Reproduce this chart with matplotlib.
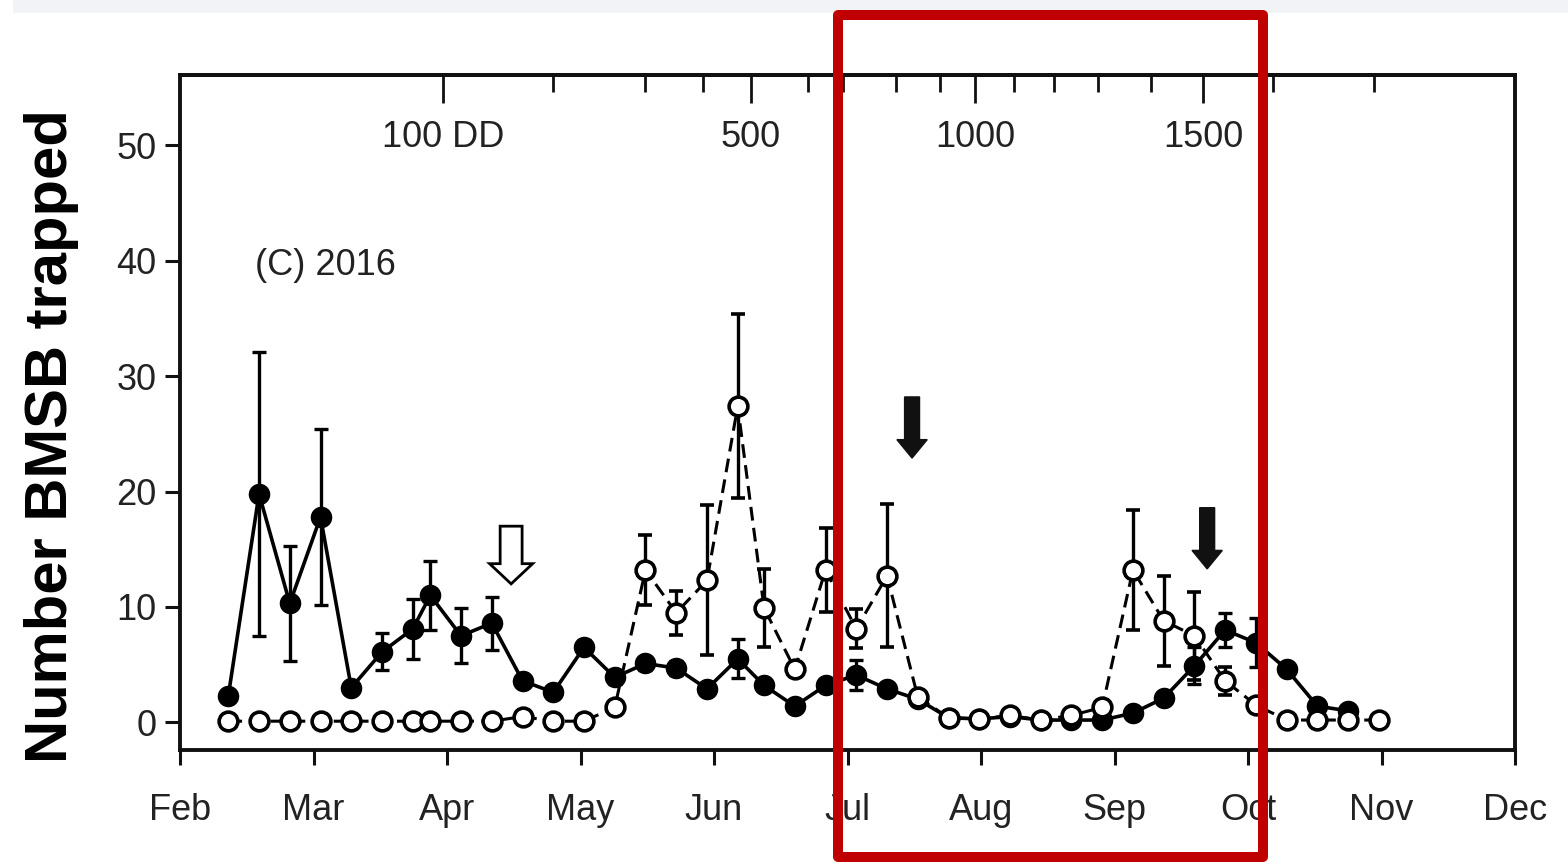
import numpy as np
import matplotlib.pyplot as plt
from matplotlib.patches import FancyArrow, Rectangle

plt.rcParams['font.family'] = ['Liberation Sans', 'DejaVu Sans']

MONTH = 30.4  # days per axis month
months = ['Feb', 'Mar', 'Apr', 'May', 'Jun', 'Jul', 'Aug', 'Sep', 'Oct', 'Nov', 'Dec']

# sampling dates, days after 1 Feb 2016
days = [11, 18, 25, 32, 39, 46, 53, 57, 64, 71, 78, 85, 92, 99, 106, 113, 120,
        127, 133, 140, 147, 154, 161, 168, 175, 182, 189, 196, 203, 210, 217,
        224, 231, 238, 245, 252, 259, 266, 273]

# filled circles, solid line
filled = [2.3, 19.8, 10.3, 17.8, 3.0, 6.1, 8.1, 11.0, 7.5, 8.6, 3.6, 2.6, 6.5,
          3.9, 5.1, 4.7, 2.9, 5.5, 3.2, 1.4, 3.2, 4.1, 2.9, 2.0, 0.4, 0.3, 0.5,
          0.2, 0.2, 0.2, 0.8, 2.1, 4.9, 8.0, 6.9, 4.6, 1.4, 1.0, np.nan]
filled_se = [0.4, 12.3, 5.0, 7.6, 0.3, 1.6, 2.6, 3.0, 2.4, 2.3, 0.3, 0.3, 0.6,
             0.6, 0.6, 0.6, 0.4, 1.7, 0.3, 0.3, 0.4, 1.3, 0.5, 0.3, 0.1, 0.1,
             0.1, 0.1, 0.1, 0.1, 0.3, 0.5, 1.6, 1.5, 2.1, 0.4, 0.3, 0.3, np.nan]

# open circles, dashed line
opened = [0.1, 0.1, 0.1, 0.1, 0.1, 0.1, 0.1, 0.1, 0.1, 0.1, 0.5, 0.1, 0.1,
          1.3, 13.2, 9.5, 12.3, 27.4, 9.9, 4.6, 13.2, 8.1, 12.7, 2.2, 0.4, 0.3,
          0.6, 0.2, 0.6, 1.3, 13.2, 8.8, 7.5, 3.6, 1.5, 0.2, 0.2, 0.2, 0.2]
opened_se = [0, 0, 0, 0, 0, 0, 0, 0, 0, 0, 0, 0, 0,
             0.3, 3.0, 1.9, 6.5, 8.0, 3.4, 0.5, 3.6, 1.7, 6.2, 0.3, 0, 0,
             0, 0, 0, 0.2, 5.2, 3.9, 3.8, 1.2, 0.3, 0, 0, 0, 0]

# degree-day marks along the top
dd_values = [100, 200, 300, 400, 500, 600, 700, 800, 900, 1000, 1100, 1200,
             1300, 1400, 1500, 1600, 1700]
dd_days = [60, 85, 106, 119, 130, 143, 151, 163, 173, 181, 190, 199, 209, 221,
           233, 249, 272]
dd_labelled = {100: '100 DD', 500: '500', 1000: '1000', 1500: '1500'}

# arrows: (day, tip height, hollow?)
arrows = [(75.4, 12.0, True), (166.7, 22.9, False), (233.9, 13.3, False)]

fig = plt.figure(figsize=(15.68, 8.65), dpi=100)
ax = fig.add_axes([0.1148, 0.1329, 0.8514, 0.7804])

ax.errorbar(days, filled, yerr=filled_se, fmt='-o', color='k', mfc='k', mec='k',
            ms=14.5, lw=2.6, elinewidth=2.4, capsize=5, capthick=2.4, zorder=2)
ax.errorbar(days, opened, yerr=opened_se, fmt='o', linestyle=(0, (4.5, 2.4)),
            color='k', mfc='white', mec='k', mew=2.6, ms=13.5, lw=2.2,
            elinewidth=2.4, capsize=5, capthick=2.4, zorder=3)

for d, tip, hollow in arrows:
    if hollow:
        ar = FancyArrow(d, tip + 5.0, 0, -5.0, width=5.0, head_width=9.8,
                        head_length=1.75, length_includes_head=True,
                        fc='white', ec='k', lw=2.0, zorder=4)
    else:
        ar = FancyArrow(d, tip + 5.3, 0, -5.3, width=3.4, head_width=6.9,
                        head_length=1.6, length_includes_head=True,
                        fc='#111111', ec='#111111', lw=1.0, zorder=4)
    ax.add_patch(ar)

ax.set_xlim(0, 10 * MONTH)
ax.set_ylim(-2.4, 56.1)
ax.set_xticks(np.arange(len(months)) * MONTH, months)
ax.set_yticks(range(0, 51, 10))
ax.tick_params(direction='out', length=11, width=2.2, labelsize=26,
               color='#111111', labelcolor='#222222')
ax.tick_params(axis='x', pad=20)
ax.tick_params(axis='y', pad=6)
for s in ax.spines.values():
    s.set_linewidth(2.8)
    s.set_color('#111111')

top = ax.secondary_xaxis('top')
top.set_xticks([d for d, v in zip(dd_days, dd_values) if v in dd_labelled], labels=[])
top.set_xticks([d for d, v in zip(dd_days, dd_values) if v not in dd_labelled],
               minor=True)
top.tick_params(which='major', direction='in', length=20, width=2.0, color='#111111')
top.tick_params(which='minor', direction='in', length=12, width=2.0, color='#111111')
top.spines['top'].set_linewidth(2.8)

for d, v in zip(dd_days, dd_values):
    if v in dd_labelled:
        ax.text(d, 0.907, dd_labelled[v], transform=ax.get_xaxis_transform(),
                ha='center', va='center', fontsize=26, color='#222222')

ax.text(0.056, 0.7185, '(C) 2016', transform=ax.transAxes, ha='left',
        va='center', fontsize=26, color='#222222')

fig.text(0.033, 0.496, 'Number BMSB trapped', rotation=90, fontsize=43,
         fontweight='bold', ha='center', va='center')

# slide band and highlight box
fig.add_artist(Rectangle((0.008, 0.985), 0.992, 0.015, transform=fig.transFigure,
                         fc='#f1f3f6', ec='none', zorder=0))
fig.add_artist(Rectangle((0.5344, 0.0092), 0.2711, 0.9735, transform=fig.transFigure,
                         fill=False, ec='#c00000', lw=7.2, joinstyle='round',
                         zorder=10))

fig.savefig('out.png', dpi=100)
